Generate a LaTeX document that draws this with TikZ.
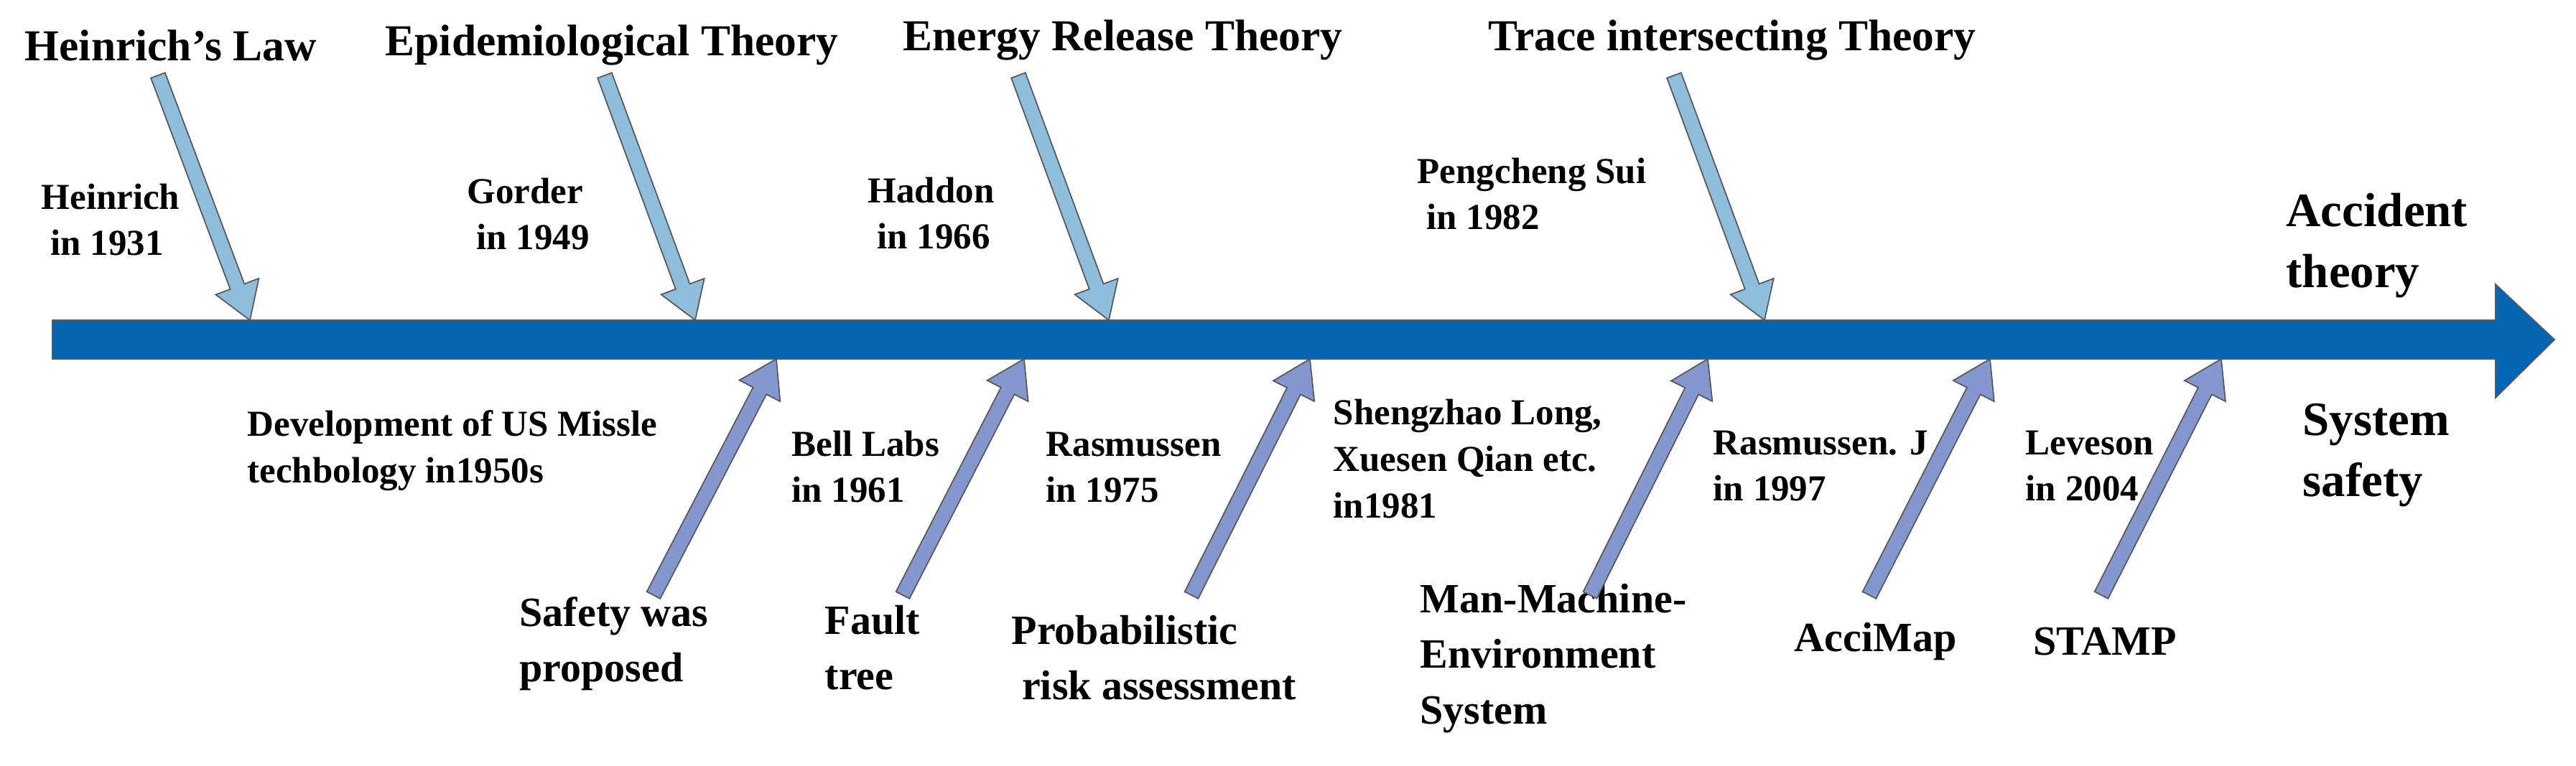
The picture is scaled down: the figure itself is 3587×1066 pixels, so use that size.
\documentclass[tikz,border=0pt]{standalone}
\usepackage{fontspec}
\setmainfont{Liberation Serif}
\usetikzlibrary{calc}

\definecolor{barblue}{HTML}{0466B3}
\definecolor{theoryblue}{HTML}{8FBEDC}
\definecolor{safetyblue}{HTML}{8498CF}

\tikzset{
  title/.style={anchor=west, inner sep=0pt, font=\fontsize{17.5}{21}\selectfont\bfseries},
  who/.style={anchor=west, inner sep=0pt, align=left, font=\fontsize{14.5}{18.4}\selectfont\bfseries},
  what/.style={anchor=west, inner sep=0pt, align=left, font=\fontsize{16.5}{22}\selectfont\bfseries},
  side/.style={anchor=west, inner sep=0pt, align=left, font=\fontsize{19}{24}\selectfont\bfseries},
  fat/.style={draw=black!65, line width=0.5pt, fill=#1},
}

% fat arrow from #1 (tail) to #2 (tip), filled with #3
\newcommand{\fatarrow}[3]{%
  \coordinate (hb) at ($(#2)!0.5cm!(#1)$);
  \filldraw[fat=#3]
    ($(#1)!0.105cm!90:(#2)$) -- ($(hb)!0.105cm!90:(#2)$)
    -- ($(hb)!0.32cm!90:(#2)$) -- (#2)
    -- ($(hb)!0.32cm!-90:(#2)$) -- ($(hb)!0.105cm!-90:(#2)$)
    -- ($(#1)!0.105cm!-90:(#2)$) -- cycle;
}

\begin{document}
\begin{tikzpicture}[x=0.01cm, y=-0.01cm]
  \useasboundingbox (0,0) rectangle (3587,1066);

  % main axis
  \filldraw[draw=black!65, line width=0.5pt, fill=barblue]
    (73,446) -- (3475,446) -- (3475,396) -- (3557,473)
    -- (3475,554) -- (3475,500) -- (73,500) -- cycle;

  % theories above the axis
  \node[title] (heinrichlaw) at (34,63) {Heinrich's Law};
  \node[title] (epidemic) at (536,63) {Epidemiological Theory};
  \node[title] (energy) at (1257,56) {Energy Release Theory};
  \node[title] (trace) at (2072,56) {Trace intersecting Theory};

  \node[who] (heinrich) at (57,306) {Heinrich\\\ in 1931};
  \node[who] (gorder) at (650,298) {Gorder\\\ in 1949};
  \node[who] (haddon) at (1208,297) {Haddon\\\ in 1966};
  \node[who] (sui) at (1973,270) {Pengcheng Sui\\\ in 1982};
  \node[side] (accident) at (3183,342) {Accident\\theory};

  \foreach \n/\tx/\px in {1/220/348, 2/842/968, 3/1418/1544, 4/2331/2457} {
    \coordinate (up\n) at (\tx,105);
    \coordinate (upt\n) at (\px,446);
    \fatarrow{up\n}{upt\n}{theoryblue}
  }

  % system safety below the axis
  \node[who] (missile) at (344,628) {Development of US Missle\\techbology in1950s};
  \node[who] (bell) at (1102,650) {Bell Labs\\in 1961};
  \node[who] (rasm) at (1456,651) {Rasmussen\\in 1975};
  \node[who] (long) at (1856,639) {Shengzhao Long,\\Xuesen Qian etc.\\in1981};
  \node[who] (rasmj) at (2385,649) {Rasmussen. J\\in 1997};
  \node[who] (leveson) at (2820,649) {Leveson\\in 2004};
  \node[side] (syssafe) at (3206,634) {System\\safety};

  \node[what] (safety) at (723,897) {Safety was\\proposed};
  \node[what] (fault) at (1148,902) {Fault\\tree};
  \node[what] (pra) at (1408,916) {Probabilistic\\\ risk assessment};
  \node[what] (mme) at (1977,917) {Man-Machine-\\Environment\\System};
  \node[what] (accimap) at (2498,894) {AcciMap};
  \node[what] (stamp) at (2831,894) {STAMP};

  \foreach \n/\tx/\px in {1/910/1081, 2/1257/1426, 3/1659/1824, 4/2214/2378, 5/2603/2771, 6/2926/3093} {
    \coordinate (dn\n) at (\tx,829);
    \coordinate (dnt\n) at (\px,500);
    \fatarrow{dn\n}{dnt\n}{safetyblue}
  }
\end{tikzpicture}
\end{document}
